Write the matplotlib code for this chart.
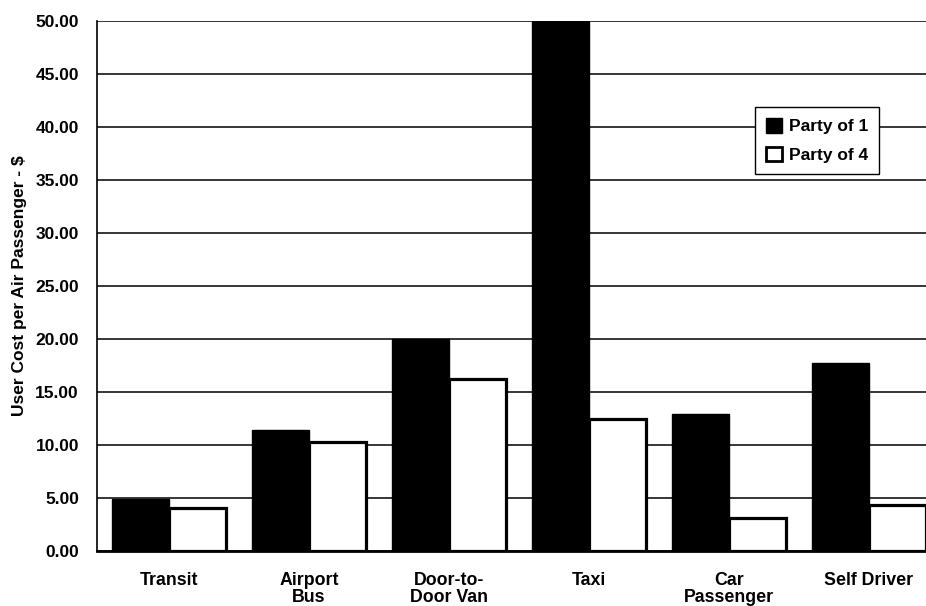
import matplotlib
matplotlib.use("Agg")
import matplotlib.pyplot as plt
from matplotlib.patches import Patch
import numpy as np

plt.rcParams['font.family'] = ['Liberation Sans', 'DejaVu Sans']
plt.rcParams['font.weight'] = 'bold'

categories = ["Transit", "Airport\nBus", "Door-to-\nDoor Van", "Taxi", "Car\nPassenger", "Self Driver"]
party_of_1 = [4.95, 11.45, 20.0, 50.0, 12.9, 17.7]
party_of_4 = [4.1, 10.25, 16.2, 12.5, 3.15, 4.35]
y_ticks = [0, 5, 10, 15, 20, 25, 30, 35, 40, 45, 50]
series_names = ["Party of 1", "Party of 4"]

W, H = 926, 606
fig = plt.figure(figsize=(W / 100, H / 100), dpi=100)

# slot of 140 px per category; axes runs off the right edge of the figure
slot = 140.0
x_left = -0.514
x_right = 5.5
ax_left_px = 97
ax_w_px = (x_right - x_left) * slot
ax_bottom_px = 55
ax_h_px = 530
ax = fig.add_axes([ax_left_px / W, ax_bottom_px / H, ax_w_px / W, ax_h_px / H])

x = np.arange(len(categories))
bw = 0.405
ax.bar(x - bw / 2, party_of_1, width=bw, color='black', edgecolor='black',
       linewidth=1.0, zorder=3)
ax.bar(x + bw / 2, party_of_4, width=bw, color='white', edgecolor='black',
       linewidth=2.3, zorder=3)

ax.set_xlim(x_left, x_right)
ax.set_ylim(0, 50)
ax.set_yticks(y_ticks)
ax.set_yticklabels([f"{v:.2f}" for v in y_ticks], fontsize=12.5, fontweight='bold')
ax.set_xticks(x)
ax.set_xticklabels(categories, fontsize=12.8, fontweight='bold', linespacing=1.0)
ax.tick_params(axis='y', length=0, pad=13)
ax.tick_params(axis='x', length=0, pad=15)

ax.yaxis.grid(True, color='black', linewidth=1.1, zorder=0)
ax.set_axisbelow(True)

for side in ('top', 'right'):
    ax.spines[side].set_visible(False)
ax.spines['left'].set_linewidth(1.2)
ax.spines['bottom'].set_linewidth(2.0)
ax.spines['bottom'].set_zorder(4)

ax.set_ylabel("User Cost per Air Passenger - $", fontsize=12.5, fontweight='bold')
ax.yaxis.set_label_coords(-70 / ax_w_px, 0.5)

handles = [Patch(facecolor='black', edgecolor='black', linewidth=1.0),
           Patch(facecolor='white', edgecolor='black', linewidth=2.0)]
leg = fig.legend(handles, series_names, loc='upper left',
                 bbox_to_anchor=(755 / W, 1 - 107 / H),
                 frameon=True, fancybox=False, shadow=False,
                 prop={'size': 12.5, 'weight': 'bold'},
                 handlelength=0.9, handleheight=0.9, handletextpad=0.4,
                 labelspacing=0.7, borderpad=0.65, borderaxespad=0)
leg.get_frame().set_edgecolor('black')
leg.get_frame().set_linewidth(1.0)
leg.get_frame().set_facecolor('white')
leg.get_frame().set_alpha(1.0)

fig.savefig("out.png", dpi=100)
